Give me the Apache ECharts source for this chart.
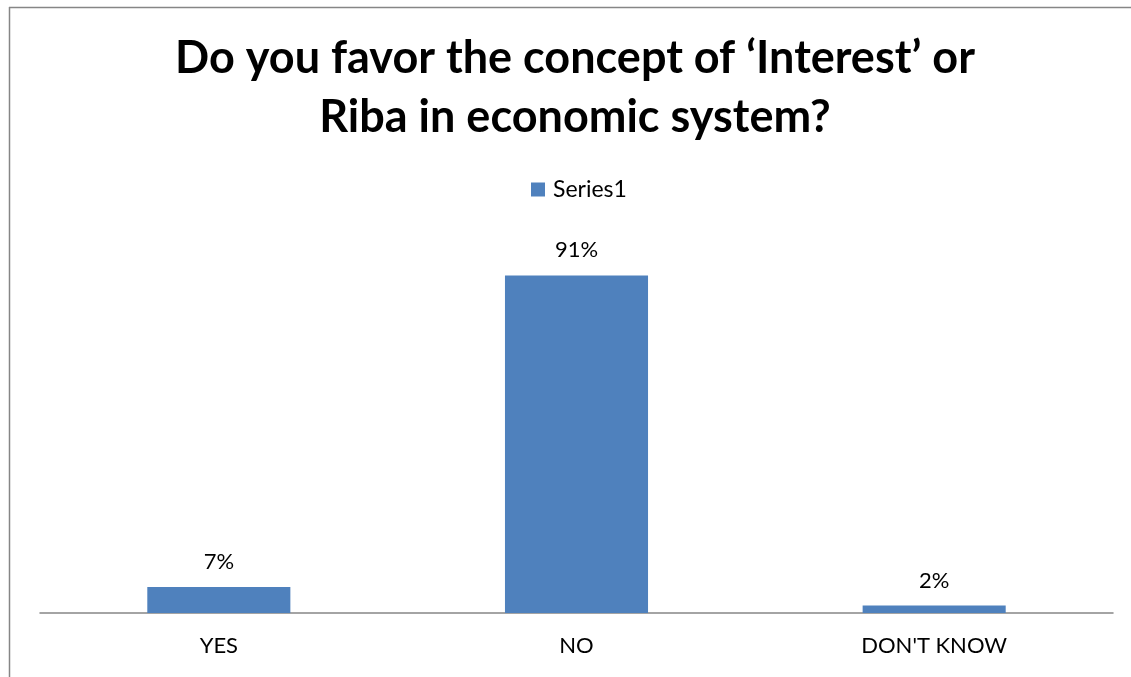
<!DOCTYPE html>
<html>
<head>
<meta charset="utf-8">
<script src="https://cdn.jsdelivr.net/npm/echarts@6/dist/echarts.min.js"></script>
<style>
  html, body { margin: 0; padding: 0; background: #fff; }
  #chart { width: 1131px; height: 677px; }
</style>
</head>
<body>
<div id="chart"></div>
<script>
// Survey answers and their shares (percent)
const categories = ['YES', 'NO', "DON'T KNOW"];
const shares = [7, 91, 2];
const seriesName = 'Series1';
const titleLines = ['Do you favor the concept of \u2018Interest\u2019 or', 'Riba in economic system?'];

const chart = echarts.init(document.getElementById('chart'), null, { renderer: 'canvas' });
const font = 'Lato, "Open Sans", sans-serif';

chart.setOption({
  animation: false,
  backgroundColor: '#ffffff',
  title: {
    text: titleLines.join('\n'),
    left: 575,
    textAlign: 'center',
    top: 29,
    padding: 0,
    textStyle: { fontFamily: font, fontWeight: 'bold', fontSize: 45, lineHeight: 59, color: '#000' }
  },
  legend: {
    data: [seriesName],
    left: 531,
    top: 178,
    padding: 0,
    icon: 'rect',
    itemWidth: 14,
    itemHeight: 14,
    itemGap: 6,
    textStyle: { fontFamily: font, fontSize: 23, lineHeight: 22, color: '#000', padding: [0, 0, 0, 3] }
  },
  grid: { left: 40, right: 18, top: 242, bottom: 64, containLabel: false },
  xAxis: {
    type: 'category',
    data: categories,
    axisLine: { lineStyle: { color: '#868686', width: 1.5 } },
    axisTick: { show: false },
    axisLabel: { fontFamily: font, fontSize: 22, color: '#000', margin: 22 }
  },
  yAxis: {
    type: 'value',
    min: 0,
    max: 100,
    show: false,
    splitLine: { show: false }
  },
  series: [{
    name: seriesName,
    type: 'bar',
    data: shares,
    barWidth: '40%',
    itemStyle: { color: '#4F81BD' },
    label: {
      show: true,
      position: 'top',
      distance: 14,
      formatter: p => p.value + '%',
      fontFamily: font,
      fontSize: 22,
      color: '#000'
    }
  }],
  graphic: [
    // outer frame: top and left edges
    { type: 'line', shape: { x1: 9, y1: 7.5, x2: 1131, y2: 7.5 }, style: { stroke: '#868686', lineWidth: 1.5 } },
    { type: 'line', shape: { x1: 9.5, y1: 7, x2: 9.5, y2: 677 }, style: { stroke: '#868686', lineWidth: 1.5 } }
  ]
});
</script>
</body>
</html>
